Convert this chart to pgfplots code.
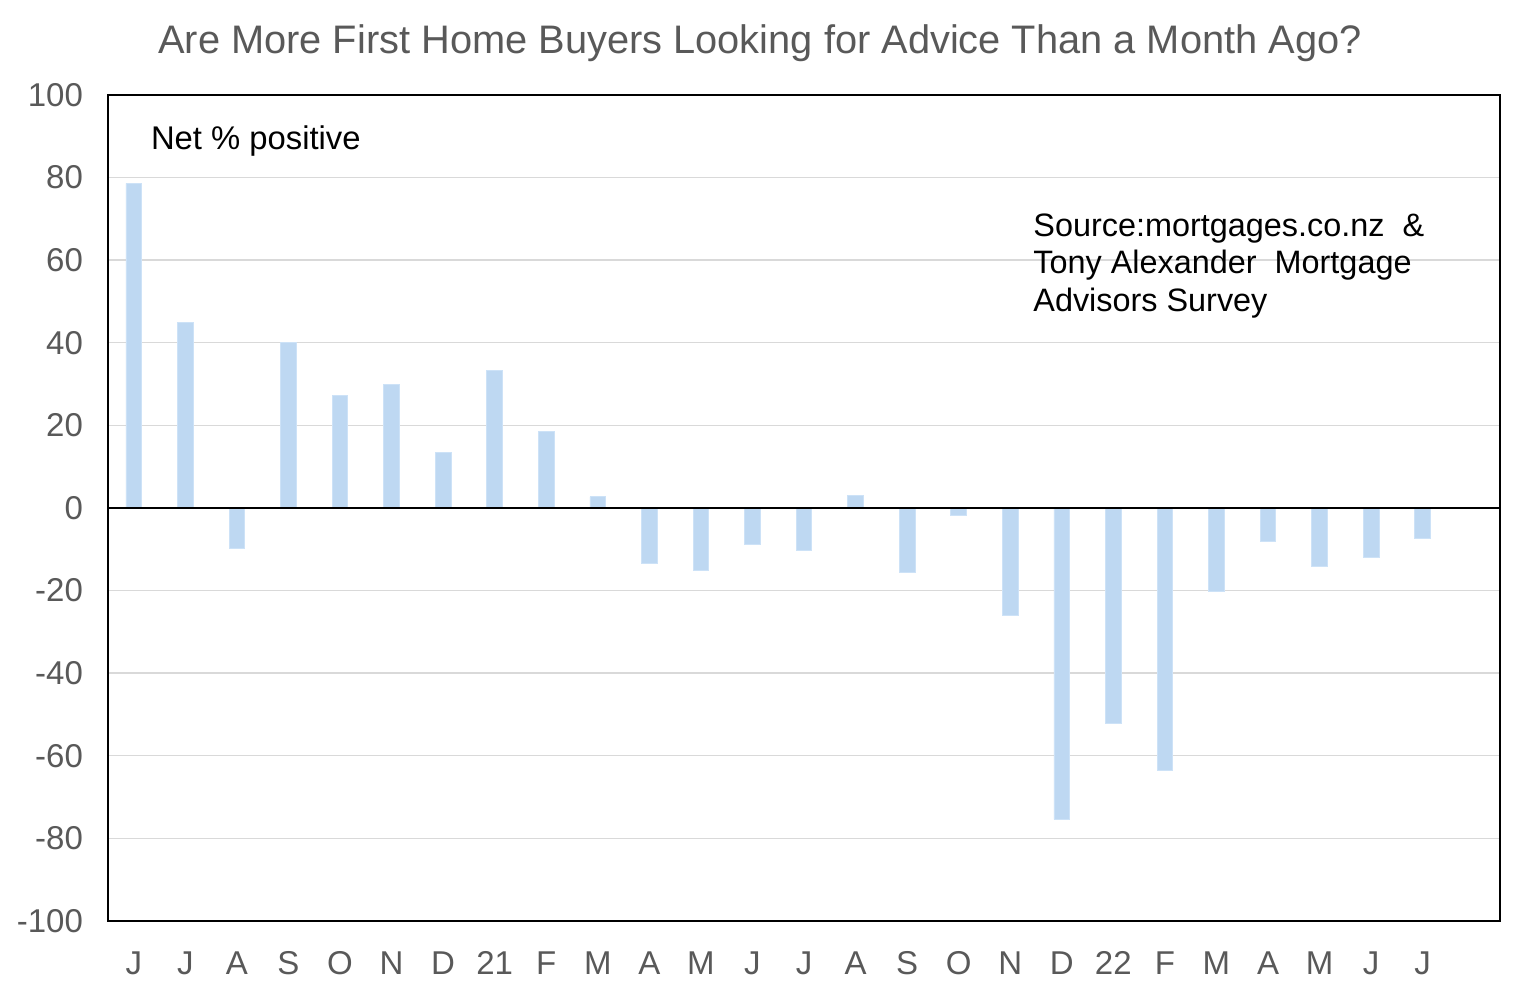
\documentclass[border=0pt]{standalone}
\usepackage{pgfplots}
\pgfplotsset{compat=1.18}
\usepackage{fontspec}
\setmainfont{Liberation Sans}
\definecolor{barblue}{RGB}{190,216,242}
\definecolor{baredge}{RGB}{205,226,247}
\definecolor{txtgray}{RGB}{89,89,89}
\definecolor{gridgray}{RGB}{217,217,217}
\begin{document}
\begin{tikzpicture}
\path[use as bounding box] (-54pt,-37pt) rectangle (708.5pt,460.5pt);
\begin{axis}[
  at={(0pt,0pt)}, anchor=south west,
  scale only axis, width=696pt, height=413pt,
  xmin=-0.5, xmax=26.5, ymin=-100, ymax=100,
  ytick={-100,-80,...,100},
  xtick={0,...,25},
  xticklabels={J,J,A,S,O,N,D,21,F,M,A,M,J,J,A,S,O,N,D,22,F,M,A,M,J,J},
  major tick length=0pt,
  ymajorgrids, grid style={gridgray, line width=0.7pt},
  axis line style={black, line width=0.8pt},
  tick label style={font=\fontsize{16.5}{18}\selectfont, text=txtgray},
  /pgf/number format/assume math mode=true,
  yticklabel style={xshift=-9pt},
  xticklabel style={yshift=-11.5pt, text height=11.8pt, text depth=0pt},
]
\addplot[ybar, bar width=7.8pt, fill=barblue, draw=baredge, line width=0.4pt] coordinates {
(0,78.6) (1,45.0) (2,-9.7) (3,40.1) (4,27.3) (5,30.0) (6,13.4) (7,33.3) (8,18.6) (9,2.7)
(10,-13.5) (11,-15.0) (12,-8.9) (13,-10.3) (14,3.1) (15,-15.7) (16,-1.7) (17,-25.9) (18,-75.4) (19,-52.2)
(20,-63.6) (21,-20.1) (22,-8.1) (23,-14.2) (24,-11.9) (25,-7.4)
};
\draw[black, line width=1pt] (axis cs:-0.5,0) -- (axis cs:26.5,0);
\end{axis}
\node[anchor=base, inner sep=0pt, text=txtgray, font=\fontsize{19.9}{22}\selectfont] at (326pt,433.8pt) {Are More First Home Buyers Looking for Advice Than a Month Ago?};
\node[anchor=base west, inner sep=0pt, font=\fontsize{16.4}{18}\selectfont] at (21.3pt,385.5pt) {Net \% positive};
\node[anchor=base west, inner sep=0pt, font=\fontsize{16.2}{18}\selectfont] at (462.5pt,342pt) {Source:mortgages.co.nz\ \ \&};
\node[anchor=base west, inner sep=0pt, font=\fontsize{16.2}{18}\selectfont] at (462.5pt,323.5pt) {Tony Alexander\ \ Mortgage};
\node[anchor=base west, inner sep=0pt, font=\fontsize{16.2}{18}\selectfont] at (462.5pt,304.5pt) {Advisors Survey};
\end{tikzpicture}
\end{document}
